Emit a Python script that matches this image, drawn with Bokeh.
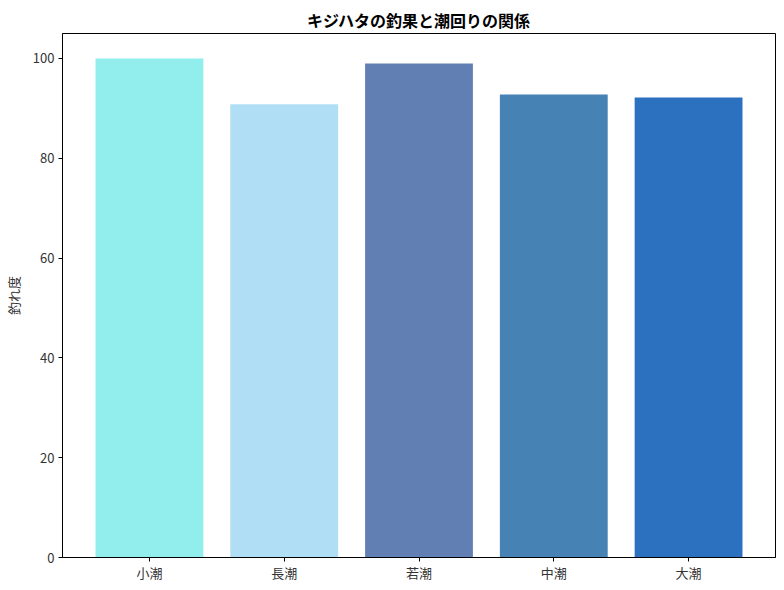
from bokeh.plotting import figure
from bokeh.models import FactorRange, Range1d, ColumnDataSource, FixedTicker
from bokeh.embed import file_html
from bokeh.resources import INLINE

categories = ["小潮", "長潮", "若潮", "中潮", "大潮"]
values = [100.0, 90.8, 99.0, 92.8, 92.2]
colors = ["#92EEEC", "#B0DFF5", "#627FB3", "#4682B4", "#2C70C0"]
y_ticks = [0, 20, 40, 60, 80, 100]

FONT = "Noto Sans CJK JP"

src = ColumnDataSource(dict(cat=categories, val=values, color=colors))

p = figure(
    width=784, height=590,
    x_range=FactorRange(factors=categories, range_padding=0.145, range_padding_units="absolute"),
    y_range=Range1d(0, 105),
    output_backend="svg", toolbar_location=None,
    title="キジハタの釣果と潮回りの関係",
    min_border_left=61, min_border_right=9, min_border_top=33, min_border_bottom=33,
)
p.vbar(x="cat", top="val", width=0.8, color="color", source=src, line_color=None)

p.title.align = "center"
p.title.text_font = FONT
p.title.text_font_size = "16px"
p.title.text_font_style = "bold"
p.title.text_color = "#000000"
p.title.standoff = 4

p.xgrid.visible = False
p.ygrid.visible = False
p.outline_line_color = "#000000"
p.outline_line_width = 1
p.outline_line_alpha = 1

for ax in (p.xaxis[0], p.yaxis[0]):
    ax.axis_line_color = "#000000"
    ax.major_tick_line_color = "#000000"
    ax.major_tick_out = 4
    ax.major_tick_in = 0
    ax.minor_tick_line_color = None
    ax.major_label_text_font = FONT
    ax.major_label_text_font_size = "13px"
    ax.major_label_text_color = "#333333"
    ax.major_label_standoff = 4

p.xaxis.axis_label_standoff = 0
p.xaxis.major_label_standoff = 1
p.yaxis.ticker = FixedTicker(ticks=y_ticks)
p.yaxis.axis_label = "釣れ度"
p.yaxis.axis_label_text_font = FONT
p.yaxis.axis_label_text_font_size = "13px"
p.yaxis.axis_label_text_font_style = "normal"
p.yaxis.axis_label_text_color = "#333333"
p.yaxis.axis_label_standoff = 7

open("out.html", "w").write(file_html(p, INLINE))
